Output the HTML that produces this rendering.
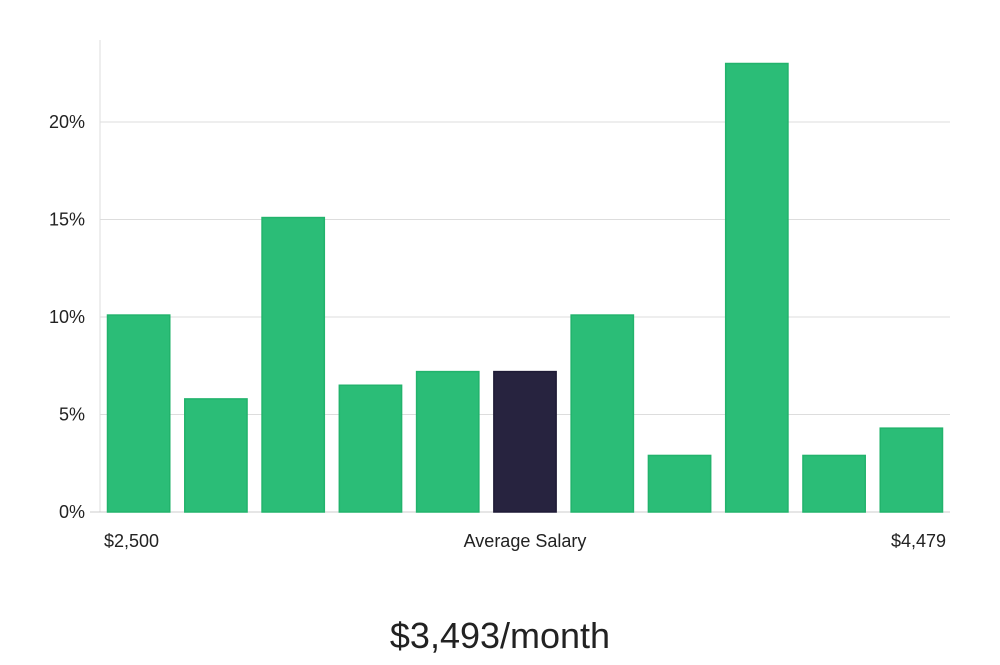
<!DOCTYPE html>
<html><head><meta charset="utf-8"><style>
body{margin:0;background:#fff;width:1000px;height:660px;overflow:hidden;font-family:"Liberation Sans",sans-serif}
</style></head><body>
<svg width="1000" height="660" xmlns="http://www.w3.org/2000/svg">
<g id="grid"></g><g id="bars"></g><g id="labels"></g>
<text x="500" y="648" text-anchor="middle" font-size="36" fill="#222" font-family="Liberation Sans, sans-serif">$3,493/month</text>
</svg>
<script>
const categories=["b1","b2","b3","b4","b5","b6","b7","b8","b9","b10","b11"];
const values=[10.1,5.8,15.1,6.5,7.2,7.2,10.1,2.9,23.0,2.9,4.3];
const highlightIndex=5;
const yTicks=[0,5,10,15,20];
const xLabels=["$2,500","Average Salary","$4,479"];
const NS="http://www.w3.org/2000/svg";
const L=100,R=950,T=40,B=512;
const y=v=>B-v*(B-122)/20;
const step=(R-L)/categories.length;
const x=i=>L+i*step;
const grid=document.getElementById('grid'),bars=document.getElementById('bars'),labels=document.getElementById('labels');
function mk(tag,a,p){const e=document.createElementNS(NS,tag);for(const k in a)e.setAttribute(k,a[k]);p.appendChild(e);return e;}
const ax=mk('line',{x1:L,x2:L,y1:T,y2:B,stroke:'#ddd','stroke-width':1},grid);


yTicks.forEach(t=>{
 const g=mk('line',{x1:t===0?90:L,x2:R,y1:y(t),y2:y(t),stroke:t===0?'#ccc':'#ddd','stroke-width':1},grid);
 
 
 const tx=mk('text',{x:85,y:y(t)+6,'text-anchor':'end','font-size':18,fill:'#222'},labels);
 tx.textContent=t+'%';
 
 
});
values.forEach((v,i)=>{
 const hi=i===highlightIndex;
 const r=mk('rect',{x:x(i)+7.5,y:y(v),width:step-15,height:B-y(v),fill:hi?'#27233f':'#2bbd77',stroke:hi?'#1e1a36':'#22b36c','stroke-width':1.5},bars);
 
 
});
[[104,'start'],[525,'middle'],[946,'end']].forEach((p,i)=>{
 const tx=mk('text',{x:p[0],y:547,'text-anchor':p[1],'font-size':18,fill:'#222'},labels);
 tx.textContent=xLabels[i];
 
 
});
</script>
</body></html>
